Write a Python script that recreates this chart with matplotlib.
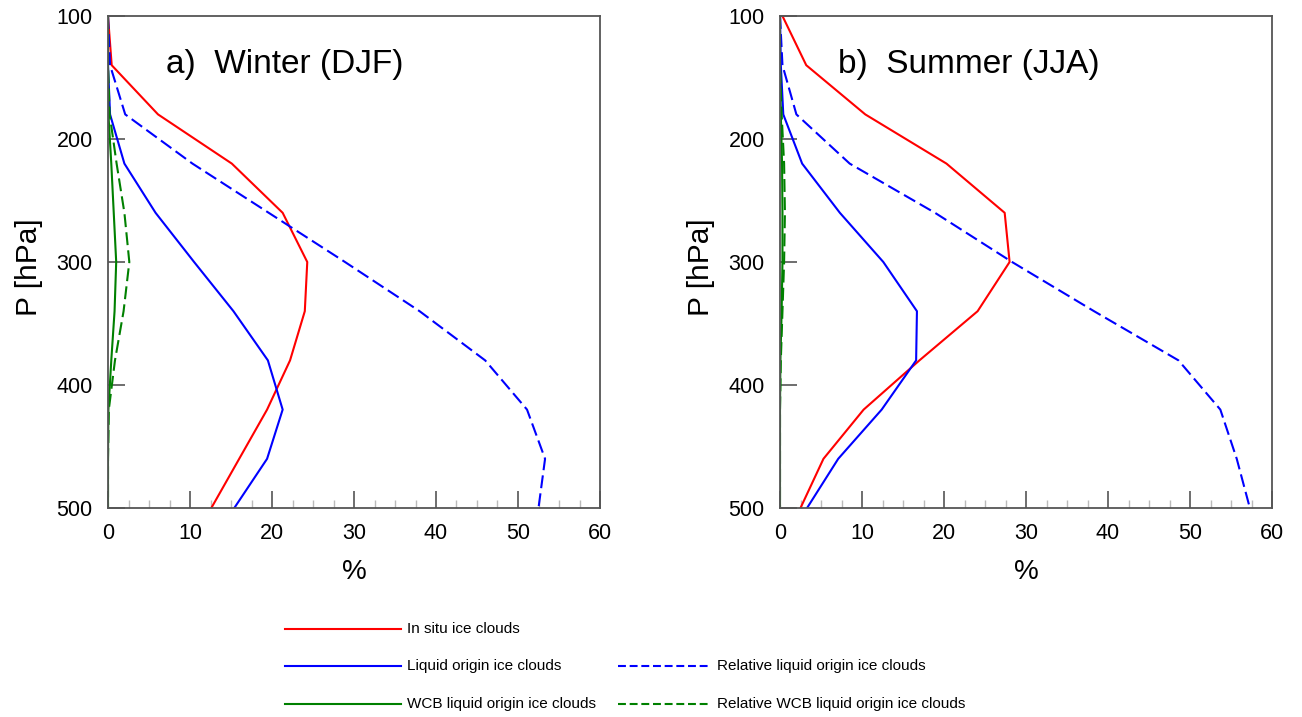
import numpy as np
import matplotlib
matplotlib.use("Agg")
import matplotlib.pyplot as plt
from matplotlib.lines import Line2D

plt.rcParams['font.family'] = ['Liberation Sans', 'DejaVu Sans']

# pressure levels (hPa)
p = [100, 140, 180, 220, 260, 300, 340, 380, 420, 460, 500]

# winter (DJF), percent
w_insitu = [0, 0.45, 6.1, 15.1, 21.3, 24.3, 24.0, 22.2, 19.4, 16.0, 12.6]
w_liq = [0, 0, 0.25, 2.0, 5.8, 10.5, 15.3, 19.5, 21.3, 19.4, 15.4]
w_liq_rel = [0, 0.25, 2.1, 10.3, 19.6, 28.9, 38.0, 46.0, 51.1, 53.3, 52.5]
w_wcb = [0, 0, 0.05, 0.4, 0.7, 1.0, 0.8, 0.4, 0.05, 0, 0]
w_wcb_rel = [0, 0, 0.2, 1.05, 2.0, 2.6, 1.9, 0.85, 0.1, 0, 0]

# summer (JJA), percent
s_insitu = [0.3, 3.2, 10.4, 20.3, 27.4, 28.0, 24.1, 17.0, 10.2, 5.3, 2.5]
s_liq = [0, 0.1, 0.4, 2.7, 7.3, 12.6, 16.7, 16.6, 12.4, 7.1, 3.3]
s_liq_rel = [0, 0.3, 2.0, 8.5, 18.9, 28.3, 38.3, 48.6, 53.7, 55.7, 57.3]
s_wcb = [0, 0, 0.1, 0.25, 0.3, 0.3, 0.2, 0.05, 0, 0, 0]
s_wcb_rel = [0, 0, 0.2, 0.5, 0.6, 0.5, 0.3, 0.1, 0, 0, 0]

titles = ['a)  Winter (DJF)', 'b)  Summer (JJA)']
labels = ['In situ ice clouds', 'Liquid origin ice clouds', 'Relative liquid origin ice clouds',
          'WCB liquid origin ice clouds', 'Relative WCB liquid origin ice clouds']

dash = (0, (6.2, 2.5))
dash_leg = (0, (3.8, 1.8))
frame = '#555555'

fig = plt.figure(figsize=(13.02, 7.17), dpi=100)
ax1 = fig.add_axes([108/1302, 209/717, 492/1302, 492/717])
ax2 = fig.add_axes([780/1302, 209/717, 492/1302, 492/717])

data = [(w_insitu, w_liq, w_liq_rel, w_wcb, w_wcb_rel),
        (s_insitu, s_liq, s_liq_rel, s_wcb, s_wcb_rel)]

for ax, d, title in zip([ax1, ax2], data, titles):
    insitu, liq, liq_rel, wcb, wcb_rel = d
    ax.plot(insitu, p, color='red', lw=1.5)
    ax.plot(liq, p, color='blue', lw=1.5)
    ax.plot(liq_rel, p, color='blue', lw=1.5, linestyle=dash)
    ax.plot(wcb, p, color='green', lw=1.5)
    ax.plot(wcb_rel, p, color='green', lw=1.5, linestyle=dash)
    ax.set_xlim(0, 60)
    ax.set_ylim(500, 100)
    ax.set_xticks(np.arange(0, 61, 10))
    ax.set_xticks(np.arange(0, 60.1, 2.5), minor=True)
    ax.set_yticks([100, 200, 300, 400, 500])
    ax.tick_params(axis='both', which='major', direction='in', length=12.5, width=1.2,
                   color='#555555', labelsize=15.5, pad=11)
    ax.tick_params(axis='x', which='minor', direction='in', length=5.5, width=1.0, color='#bbbbbb')
    ax.tick_params(axis='y', which='minor', left=False)
    for s in ax.spines.values():
        s.set_color(frame)
        s.set_linewidth(1.3)
    ax.set_xlabel('%', fontsize=20, va='center')
    ax.xaxis.set_label_coords(0.5, -0.130)
    ax.set_ylabel('P [hPa]', fontsize=21.5, va='center')
    ax.yaxis.set_label_coords(-0.161, 0.49)
    ax.text(0.117, 0.884, title, transform=ax.transAxes, fontsize=24, va='baseline', ha='left')

# legend below the panels
rows = [629, 666, 704]
entries = [
    (285, 401, rows[0], 'red', '-', labels[0]),
    (285, 401, rows[1], 'blue', '-', labels[1]),
    (618, 711, rows[1], 'blue', dash_leg, labels[2]),
    (285, 401, rows[2], 'green', '-', labels[3]),
    (618, 711, rows[2], 'green', dash_leg, labels[4]),
]
for x0, x1, y, c, ls, lab in entries:
    yf = 1 - y/717
    fig.add_artist(Line2D([x0/1302, x1/1302], [yf, yf], color=c, lw=1.5, linestyle=ls,
                          transform=fig.transFigure))
    fig.text((x1 + 6)/1302, yf, lab, fontsize=11, va='center', ha='left')

fig.savefig('out.png', dpi=100)
